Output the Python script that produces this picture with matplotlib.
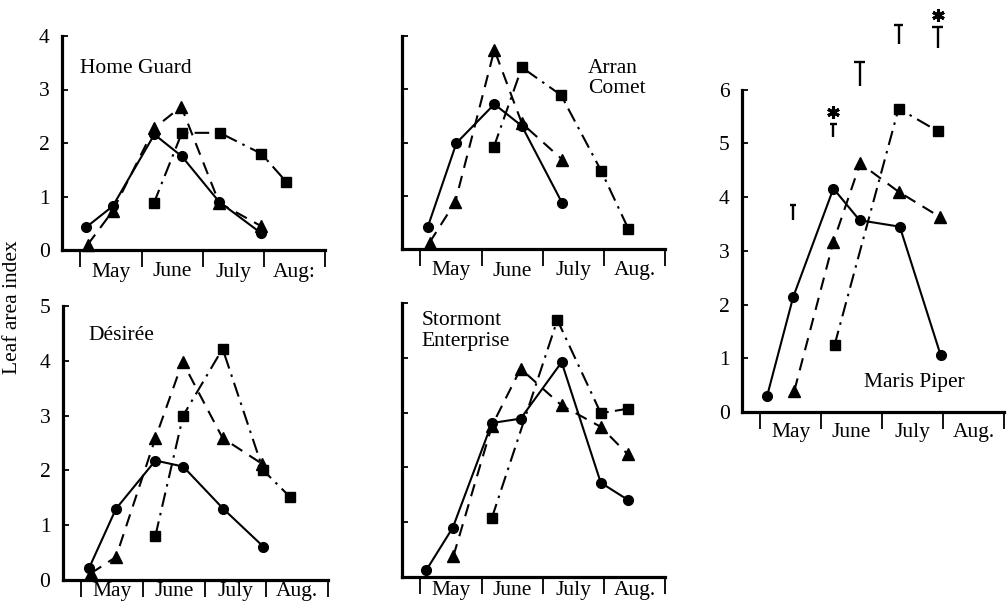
import matplotlib
matplotlib.use('Agg')
import matplotlib.pyplot as plt

plt.rcParams['font.family'] = ['Liberation Serif', 'DejaVu Serif']

# month positions: 0 = 1 May, 1 = 1 June, 2 = 1 July, 3 = 1 Aug, 4 = 1 Sept
months = ['May', 'June', 'July', 'Aug.']

# Home Guard
hg_circ_x = [0.10, 0.53, 1.21, 1.66, 2.27, 2.95]
hg_circ_y = [0.43, 0.82, 2.16, 1.75, 0.90, 0.32]
hg_tri_x = [0.12, 0.53, 1.21, 1.65, 2.27, 2.95]
hg_tri_y = [0.10, 0.73, 2.28, 2.68, 0.88, 0.45]
hg_sq_x = [1.20, 1.66, 2.28, 2.96, 3.37]
hg_sq_y = [0.87, 2.19, 2.19, 1.80, 1.27]

# Arran Comet
ac_circ_x = [0.12, 0.59, 1.21, 1.66, 2.32]
ac_circ_y = [0.41, 1.99, 2.72, 2.31, 0.86]
ac_tri_x = [0.15, 0.57, 1.21, 1.66, 2.32]
ac_tri_y = [0.12, 0.88, 3.74, 2.36, 1.68]
ac_sq_x = [1.20, 1.66, 2.30, 2.96, 3.40]
ac_sq_y = [1.91, 3.41, 2.89, 1.46, 0.38]

# Desiree
de_circ_x = [0.12, 0.56, 1.20, 1.65, 2.30, 2.95]
de_circ_y = [0.21, 1.30, 2.18, 2.07, 1.30, 0.61]
de_tri_x = [0.15, 0.56, 1.20, 1.64, 2.29, 2.93]
de_tri_y = [0.12, 0.42, 2.59, 3.98, 2.59, 2.12]
de_sq_x = [1.20, 1.65, 2.29, 2.95, 3.38]
de_sq_y = [0.81, 3.00, 4.22, 2.00, 1.52]

# Stormont Enterprise
se_circ_x = [0.10, 0.53, 1.17, 1.64, 2.31, 2.95, 3.39]
se_circ_y = [0.13, 0.90, 2.81, 2.89, 3.92, 1.72, 1.41]
se_tri_x = [0.54, 1.17, 1.64, 2.31, 2.95, 3.39]
se_tri_y = [0.38, 2.76, 3.80, 3.13, 2.74, 2.24]
se_sq_x = [1.17, 2.24, 2.95, 3.39]
se_sq_y = [1.08, 4.69, 2.99, 3.07]

# Maris Piper
mp_circ_x = [0.11, 0.54, 1.20, 1.63, 2.29, 2.96]
mp_circ_y = [0.29, 2.14, 4.16, 3.57, 3.45, 1.06]
mp_tri_x = [0.56, 1.20, 1.64, 2.27, 2.95]
mp_tri_y = [0.40, 3.17, 4.63, 4.10, 3.63]
mp_sq_x = [1.22, 2.27, 2.91]
mp_sq_y = [1.25, 5.65, 5.23]

# LSD bars above Maris Piper
lsd_x = [0.53, 1.20, 1.63, 2.27, 2.91]
lsd_lo = [3.57, 5.12, 6.07, 6.85, 6.77]
lsd_hi = [3.85, 5.37, 6.52, 7.20, 7.17]
lsd_half = [0.05, 0.055, 0.09, 0.07, 0.095]
star_x = [1.20, 2.91]
star_y = [5.59, 7.39]

W, H = 1007, 605
fig = plt.figure(figsize=(W / 100, H / 100), dpi=100)


def make_axes(left, right, top, bottom, ymax, yticks, show_labels, aug='Aug.', mpad=5):
    ax = fig.add_axes([left / W, 1 - bottom / H, (right - left) / W, (bottom - top) / H])
    ax.set_xlim(-0.3, 4.0)
    ax.set_ylim(0, ymax)
    for s in ['top', 'right']:
        ax.spines[s].set_visible(False)
    for s in ['left', 'bottom']:
        ax.spines[s].set_linewidth(2.3)
    ax.spines['left'].set_bounds(0, yticks[-1])
    ax.set_yticks(yticks)
    if show_labels:
        ax.set_yticklabels([str(t) for t in yticks])
    else:
        ax.set_yticklabels([])
    ax.tick_params(axis='y', direction='in', length=4, width=1.3, pad=9, labelsize=15.5)
    ax.set_xticks([0, 1, 2, 3, 4])
    ax.set_xticklabels([])
    ax.tick_params(axis='x', which='major', direction='out', length=12, width=1.3)
    ax.set_xticks([0.5, 1.5, 2.5, 3.5], minor=True)
    ax.set_xticklabels(months[:3] + [aug], minor=True)
    ax.tick_params(axis='x', which='minor', length=0, pad=mpad, labelsize=15.5)
    return ax


def draw(ax, cx, cy, tx, ty, sx, sy):
    ax.plot(tx, ty, color='black', lw=1.5, ls=(0, (6, 4)), marker='^', ms=8, clip_on=False, zorder=2)
    ax.plot(sx, sy, color='black', lw=1.5, ls=(0, (7, 3, 1.2, 3)), marker='s', ms=6.5, clip_on=False, zorder=2)
    ax.plot(cx, cy, '-', color='black', lw=1.5, marker='o', ms=7, clip_on=False, zorder=3)


ax1 = make_axes(62, 325, 36, 250, 4, [0, 1, 2, 3, 4], True, aug='Aug:', mpad=9)
draw(ax1, hg_circ_x, hg_circ_y, hg_tri_x, hg_tri_y, hg_sq_x, hg_sq_y)
ax1.text(0.0, 3.40, 'Home Guard', fontsize=15.5, va='center', ha='left')

ax2 = make_axes(402, 665, 36, 249, 4, [0, 1, 2, 3, 4], False, mpad=9)
draw(ax2, ac_circ_x, ac_circ_y, ac_tri_x, ac_tri_y, ac_sq_x, ac_sq_y)
ax2.text(2.74, 3.20, 'Arran\nComet', fontsize=15.5, va='center', ha='left', linespacing=1.1)

ax3 = make_axes(63, 328, 306, 580, 5, [0, 1, 2, 3, 4, 5], True, mpad=1.5)
draw(ax3, de_circ_x, de_circ_y, de_tri_x, de_tri_y, de_sq_x, de_sq_y)
ax3.text(0.11, 4.47, 'Désirée', fontsize=15.5, va='center', ha='left')

ax4 = make_axes(402, 665, 303, 577, 5, [0, 1, 2, 3, 4, 5], False, mpad=3)
draw(ax4, se_circ_x, se_circ_y, se_tri_x, se_tri_y, se_sq_x, se_sq_y)
ax4.text(0.02, 4.49, 'Stormont\nEnterprise', fontsize=15.5, va='center', ha='left', linespacing=1.1)

ax5 = make_axes(742, 1004, 7, 412, 7.54, [0, 1, 2, 3, 4, 5, 6], True, mpad=8)
draw(ax5, mp_circ_x, mp_circ_y, mp_tri_x, mp_tri_y, mp_sq_x, mp_sq_y)
ax5.text(1.70, 0.54, 'Maris Piper', fontsize=15.5, va='center', ha='left')
ax5.vlines(lsd_x, lsd_lo, lsd_hi, color='black', lw=1.7, clip_on=False)
ax5.hlines(lsd_hi, [x - h for x, h in zip(lsd_x, lsd_half)],
           [x + h for x, h in zip(lsd_x, lsd_half)], color='black', lw=1.7, clip_on=False)
ax5.plot(star_x, star_y, ls='none', marker=(6, 2, 0), ms=9, mew=2.2, color='black', clip_on=False)

fig.text(13 / W, 1 - 307 / H, 'Leaf area index', rotation=90, fontsize=15.5,
         va='center', ha='center')

fig.savefig('out.png', dpi=100)
